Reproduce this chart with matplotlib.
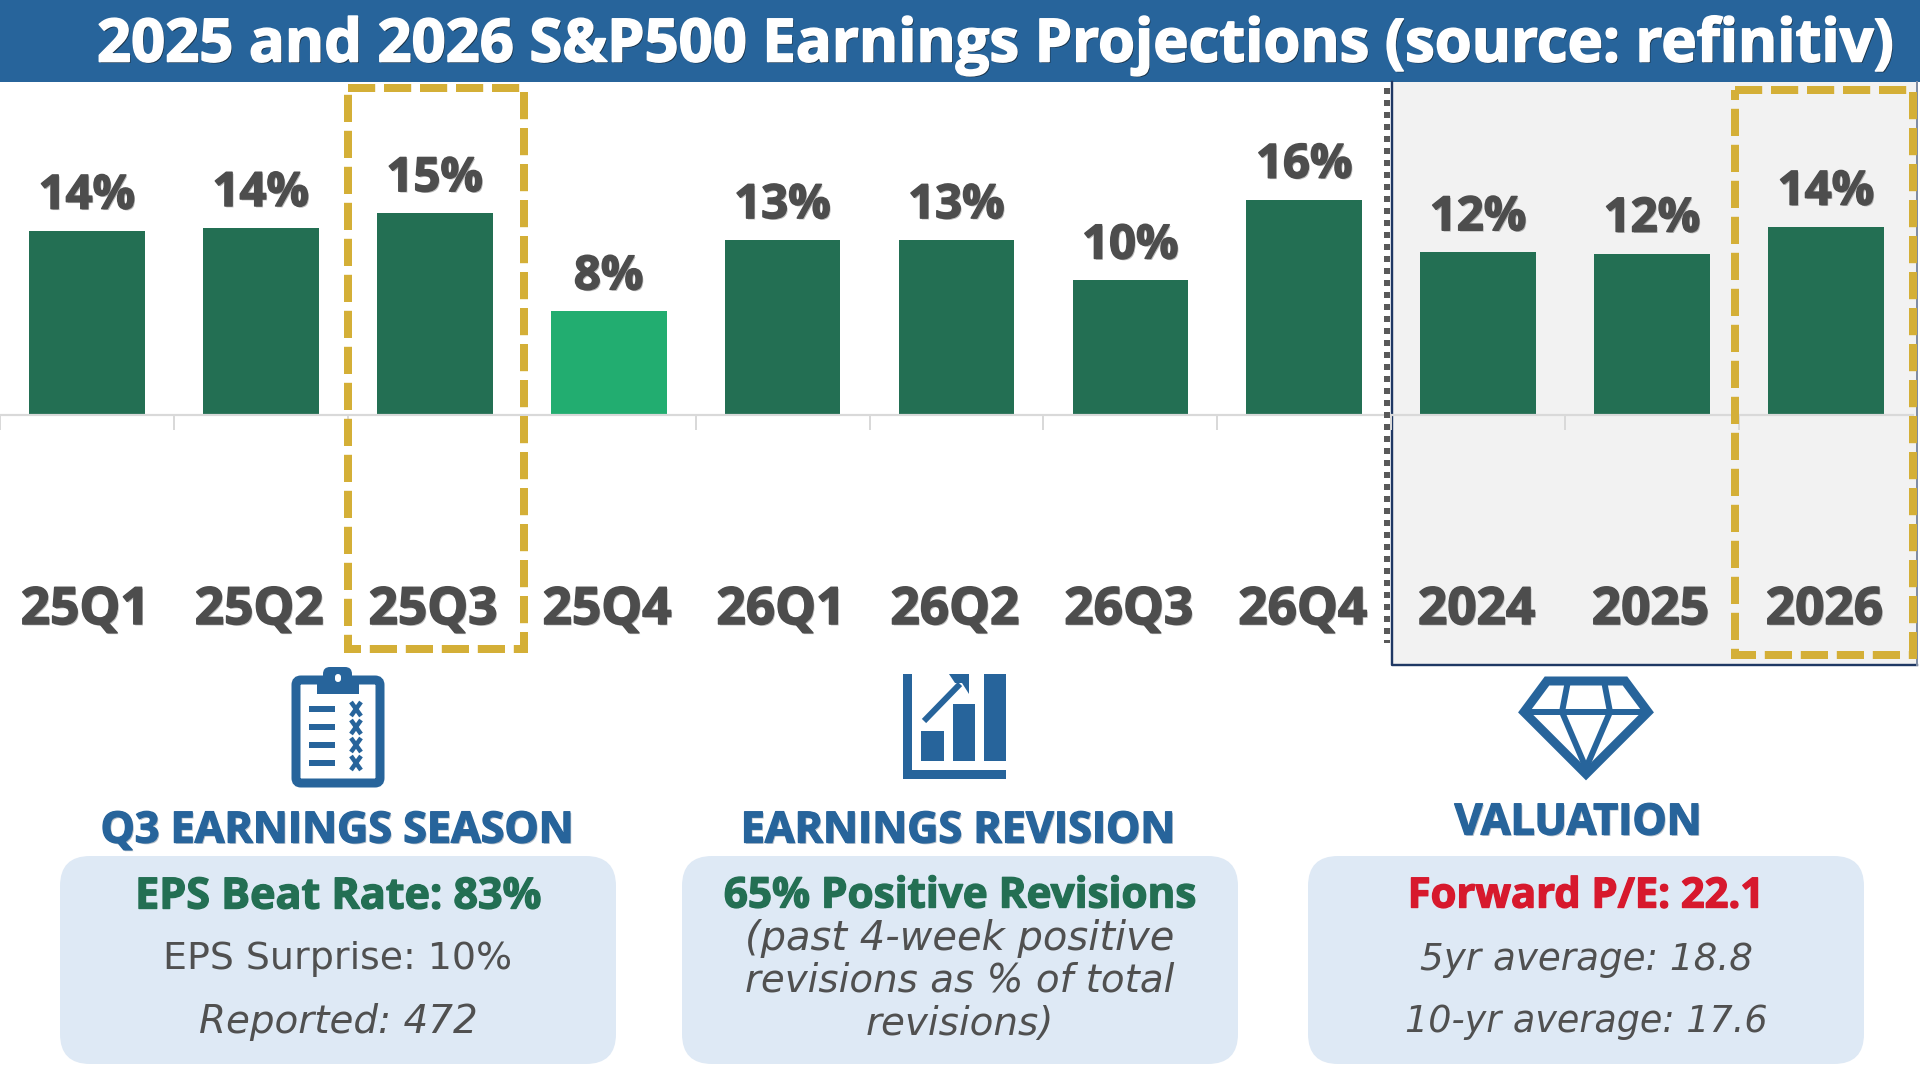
"""S&P500 earnings projections panel with three summary cards below."""

import matplotlib

matplotlib.use("Agg")
import matplotlib.patheffects as pe
import matplotlib.pyplot as plt
import numpy as np
from matplotlib.patches import FancyBboxPatch, Polygon, Rectangle

# chart data
periods = ["25Q1", "25Q2", "25Q3", "25Q4", "26Q1", "26Q2", "26Q3", "26Q4", "2024", "2025", "2026"]
growth = [13.7, 13.9, 15.0, 7.7, 13.0, 13.0, 10.0, 16.0, 12.1, 12.0, 14.0]
growth_labels = ["14%", "14%", "15%", "8%", "13%", "13%", "10%", "16%", "12%", "12%", "14%"]
light_period = "25Q4"

title = "2025 and 2026 S&P500 Earnings Projections (source: refinitiv)"
card_heads = ["Q3 EARNINGS SEASON", "EARNINGS REVISION", "VALUATION"]

BLUE = "#27649B"
GREEN = "#236F53"
LIGHT_GREEN = "#22AD70"
GOLD = "#D4AF37"
GREY_TEXT = "#4D4D4D"
BODY_TEXT = "#505050"
CARD = "#DEE9F5"
PANEL = "#F2F2F2"
NAVY = "#1F3864"
RED = "#D7192D"
HEAVY = "Open Sans"
PLAIN = "DejaVu Sans"

W, H = 1920, 1080
PT = 72 / 100  # one pixel in points at dpi 100

plt.rcParams["font.family"] = [PLAIN]


def heavy(color, width=1.1, shadow_color="#222222", alpha=0.3):
    # Open Sans Bold is lighter than the reference face, so thicken it with a stroke
    return [
        pe.SimplePatchShadow(offset=(1, -1), shadow_rgbFace=shadow_color, alpha=alpha),
        pe.Stroke(linewidth=width, foreground=color),
        pe.Normal(),
    ]


fig = plt.figure(figsize=(W / 100, H / 100), dpi=100, facecolor="white")

# pixel canvases, one under the bars and one over them
back = fig.add_axes([0, 0, 1, 1], zorder=0)
over = fig.add_axes([0, 0, 1, 1], zorder=2)
for a in (back, over):
    a.set_xlim(0, W)
    a.set_ylim(H, 0)
    a.axis("off")
    a.patch.set_alpha(0)

back.add_patch(Rectangle((0, 0), W, 82, fc=BLUE, ec="none"))
back.add_patch(Rectangle((1392, 82), 526, 583, fc=PANEL, ec="none"))
back.plot([1392, 1392, 1917], [82, 665, 665], color=NAVY, lw=2.4 * PT)
back.plot([1917, 1917], [82, 665], color="#7F8CA3", lw=2 * PT)

# bars
base_px, top_px = 415, 82
ax = fig.add_axes([0, 1 - base_px / H, 1913 / W, (base_px - top_px) / H], zorder=1)
ax.patch.set_alpha(0)
x = np.arange(len(periods))
colors = [LIGHT_GREEN if p == light_period else GREEN for p in periods]
bars = ax.bar(x, growth, width=0.665, color=colors)
ax.set_xlim(-0.5, len(periods) - 0.5)
ax.set_ylim(0, 24.75)
ax.set_yticks([])
for side in ("top", "left", "right"):
    ax.spines[side].set_visible(False)
ax.spines["bottom"].set_color("#D9D9D9")
ax.spines["bottom"].set_linewidth(2.2 * PT)

ax.bar_label(bars, labels=growth_labels, padding=11 * PT, fontsize=34, fontweight="bold", family=HEAVY,
             color=GREY_TEXT, path_effects=heavy(GREY_TEXT))

ax.set_xticks(np.arange(len(periods) + 1) - 0.5, labels=[])
ax.tick_params(axis="x", which="major", length=15 * PT, width=2 * PT, color="#D9D9D9")
ax.set_xticks(x - 0.01, labels=periods, minor=True)
ax.tick_params(axis="x", which="minor", length=0, pad=171 * PT, labelsize=37)
for lab in ax.get_xticklabels(minor=True):
    lab.set_fontweight("bold")
    lab.set_family(HEAVY)
    lab.set_color(GREY_TEXT)
    lab.set_path_effects(heavy(GREY_TEXT))

# title
over.text(995, 46, title, ha="center", va="center", color="white", fontsize=43, fontweight="bold", family=HEAVY,
          path_effects=heavy("white", 1.2, "#111111", 0.6))

# separators and highlight frames
over.plot([1387, 1387], [88, 643], color="#595959", lw=6 * PT, ls=(0, (1, 1)), dash_capstyle="butt")
for fx0, fy0, fx1, fy1 in [(348, 88, 524, 649), (1735, 90, 1913, 655)]:
    over.add_patch(Rectangle((fx0, fy0), fx1 - fx0, fy1 - fy0, fill=False, ec=GOLD, lw=8 * PT,
                             ls=(0, (3.4, 1.1)), joinstyle="miter"))

# clipboard icon
over.add_patch(FancyBboxPatch((296, 680), 84, 103, boxstyle="round,pad=0,rounding_size=5", fc="none",
                              ec=BLUE, lw=9 * PT))
over.add_patch(FancyBboxPatch((323, 667), 29, 20, boxstyle="round,pad=0,rounding_size=7", fc=BLUE, ec="none"))
over.add_patch(Rectangle((317, 676), 42, 18, fc=BLUE, ec="none"))
over.add_patch(FancyBboxPatch((335, 674), 6, 8, boxstyle="round,pad=0,rounding_size=3", fc="white", ec="none"))
for row in (709, 727, 745, 763):
    over.add_patch(Rectangle((309, row - 3), 26, 6, fc=BLUE, ec="none"))
    over.plot([351, 361], [row - 7, row + 7], color=BLUE, lw=4.5 * PT, solid_capstyle="butt")
    over.plot([361, 351], [row - 7, row + 7], color=BLUE, lw=4.5 * PT, solid_capstyle="butt")

# rising bars icon
over.add_patch(Rectangle((903, 674), 9, 105, fc=BLUE, ec="none"))
over.add_patch(Rectangle((903, 770), 103, 9, fc=BLUE, ec="none"))
for bx0, by0, bw in [(921, 731, 23), (953, 704, 22), (984, 674, 22)]:
    over.add_patch(Rectangle((bx0, by0), bw, 761 - by0, fc=BLUE, ec="none"))
over.plot([924, 960], [721, 684], color=BLUE, lw=6 * PT, solid_capstyle="butt")
over.add_patch(Polygon([(949, 674), (969, 674), (969, 694), (962, 683), (955, 683)], fc=BLUE, ec="none"))

# diamond icon
over.add_patch(Polygon([(1547, 681), (1625, 681), (1648, 712), (1586, 774), (1524, 712)], fill=False,
                       ec=BLUE, lw=9 * PT, joinstyle="miter"))
over.plot([1524, 1648], [712, 712], color=BLUE, lw=6 * PT, solid_capstyle="butt")
over.plot([1568, 1562, 1586, 1610, 1604], [681, 712, 768, 712, 681], color=BLUE, lw=6 * PT,
          solid_joinstyle="miter")

# cards
for cx0, cx1 in [(60, 616), (682, 1238), (1308, 1864)]:
    over.add_patch(FancyBboxPatch((cx0, 856), cx1 - cx0, 208, boxstyle="round,pad=0,rounding_size=30",
                                  fc=CARD, ec="none"))

for head, hx, hy in zip(card_heads, [337, 958, 1578], [831, 831, 823]):
    over.text(hx, hy, head, ha="center", va="center", color=BLUE, fontsize=31, fontweight="bold", family=HEAVY,
              path_effects=heavy(BLUE, 1.0, "#0B2A48", 0.3))

plain_lines = [
    ("EPS Surprise: 10%", 338, 959, 27.3, "normal"),
    ("Reported: 472", 338, 1022, 28, "italic"),
    ("(past 4-week positive", 960, 939, 28.8, "italic"),
    ("revisions as % of total", 960, 981, 27.9, "italic"),
    ("revisions)", 960, 1024, 28, "italic"),
    ("5yr average: 18.8", 1586, 959, 26.8, "italic"),
    ("10-yr average: 17.6", 1586, 1022, 26.3, "italic"),
]
for line, lx, ly, size, slant in plain_lines:
    over.text(lx, ly, line, ha="center", va="center", color=BODY_TEXT, fontsize=size, style=slant)

bold_lines = [
    ("EPS Beat Rate: 83%", 338, GREEN, 31),
    ("65% Positive Revisions", 960, GREEN, 30.4),
    ("Forward P/E: 22.1", 1586, RED, 30),
]
for line, lx, tone, size in bold_lines:
    over.text(lx, 897, line, ha="center", va="center", color=tone, fontsize=size, fontweight="bold", family=HEAVY,
              path_effects=[pe.Stroke(linewidth=1.0, foreground=tone), pe.Normal()])

fig.savefig("out.png", dpi=100)
